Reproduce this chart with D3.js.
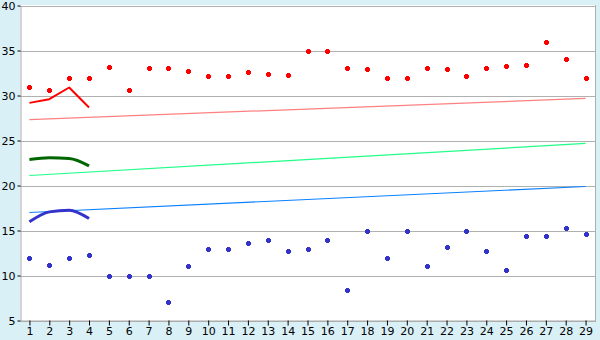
<!DOCTYPE html>
<html>
<head>
<meta charset="utf-8">
<script src="https://cdn.jsdelivr.net/npm/d3@7"></script>
<style>
  body { margin: 0; background: #daf0f7; }
  svg { display: block; font-family: "DejaVu Sans", Verdana, sans-serif; }
</style>
</head>
<body>
<svg width="600" height="340"></svg>
<script>
var categories = d3.range(1, 30)
var yTicks = [5, 10, 15, 20, 25, 30, 35, 40]

var redPoints = [31, 30.56, 32, 32, 33.22, 30.56, 33, 33, 32.67, 32.22, 32.22, 32.56, 32.44, 32.33, 35,
    35, 33, 32.89, 32, 32, 33, 32.89, 32.22, 33, 33.33, 33.44, 36, 34, 32]
var bluePoints = [12, 11.22, 12, 12.33, 10, 10, 10, 7, 11, 13, 13, 13.56, 14, 12.67, 12.89,
    14, 8.44, 14.89, 12, 14.89, 11, 13.22, 15, 12.67, 10.56, 14.44, 14.44, 15.33, 14.56]

// short lines over the first four categories
var redCurve = [29.18, 29.59, 30.89, 28.67]
var greenCurve = [22.89, 23.07, 23.0, 22.18]
var blueCurve = [15.96, 17.07, 17.26, 16.33]

// trend lines, value at first and last category
var trendX = [1, 29]
var redTrend = [27.33, 29.67]
var greenTrend = [21.11, 24.67]
var blueTrend = [17.0, 19.89]

function draw_chart() {
    var svg = d3.select("svg"),
        left = 19.5, right = 595.5, top = 5.5, bottom = 320.5

    var x = d3.scalePoint().domain(categories).range([left, right]).padding(0.5)
    var y = d3.scaleLinear().domain([5, 40]).range([bottom, top])

    svg.append("rect")
        .attr("x", 20).attr("y", 5)
        .attr("width", 576).attr("height", 316)
        .attr("fill", "#fff")

    // grid
    svg.append("g").selectAll("line")
        .data(yTicks)
        .enter().append("line")
        .attr("x1", 20).attr("x2", 596)
        .attr("y1", function (d) { return Math.round(y(d)) + 0.5 })
        .attr("y2", function (d) { return Math.round(y(d)) + 0.5 })
        .attr("stroke", "#b0b0b0")
        .attr("stroke-width", 1)

    svg.append("line")
        .attr("x1", 595.5).attr("x2", 595.5)
        .attr("y1", 5).attr("y2", 321)
        .attr("stroke", "#b0b0b0")

    var yAxis = svg.append("g")
        .attr("transform", "translate(20.5,0)")
        .call(d3.axisLeft(y).tickValues(yTicks).tickSize(3).tickPadding(2).tickSizeOuter(0))
    var xAxis = svg.append("g")
        .attr("transform", "translate(0," + 320.5 + ")")
        .call(d3.axisBottom(x).tickSize(5).tickPadding(2).tickSizeOuter(0))

    svg.selectAll(".domain, .tick line").attr("stroke", "#000")
    yAxis.select(".domain").attr("stroke", "#a8a8a8")
    xAxis.select(".domain").attr("stroke", "#a8a8a8")
    svg.selectAll(".tick text").attr("font-size", "11px").attr("fill", "#000")
        .attr("font-family", "DejaVu Sans, Verdana, sans-serif")

    // trend lines
    var trendLine = d3.line()
        .x(function (d, i) { return x(trendX[i]) })
        .y(function (d) { return y(d) })
    var trends = [[redTrend, "#ff8080"], [greenTrend, "#20ff88"], [blueTrend, "#0a80ff"]]
    trends.forEach(function (t) {
        svg.append("path").datum(t[0])
            .attr("fill", "none")
            .attr("stroke", t[1])
            .attr("stroke-width", 1.2)
            .attr("d", trendLine)
    })

    // short lines: red straight, green and blue smoothed
    var line = d3.line()
        .x(function (d, i) { return x(categories[i]) })
        .y(function (d) { return y(d) })
    var smooth = d3.line()
        .x(function (d, i) { return x(categories[i]) })
        .y(function (d) { return y(d) })
        .curve(d3.curveMonotoneX)
    var curves = [[redCurve, "#ff0000", 2, line], [greenCurve, "#006600", 3, smooth], [blueCurve, "#3333cc", 3, smooth]]
    curves.forEach(function (c) {
        svg.append("path").datum(c[0])
            .attr("fill", "none")
            .attr("stroke", c[1])
            .attr("stroke-width", c[2])
            .attr("stroke-linejoin", "round")
            .attr("d", c[3])
    })

    // markers
    var plus = "M-2.5,-1.5H-1.5V-2.5H1.5V-1.5H2.5V1.5H1.5V2.5H-1.5V1.5H-2.5Z"
    var series = [[redPoints, "#ff0000"], [bluePoints, "#3333cc"]]
    series.forEach(function (s) {
        svg.append("g").selectAll("path")
            .data(s[0])
            .enter().append("path")
            .attr("d", plus)
            .attr("fill", s[1])
            .attr("shape-rendering", "crispEdges")
            .attr("transform", function (d, i) {
                return "translate(" + Math.round(x(categories[i])) + "," + Math.round(y(d)) + ")"
            })
    })
}

draw_chart()
</script>
</body>
</html>
